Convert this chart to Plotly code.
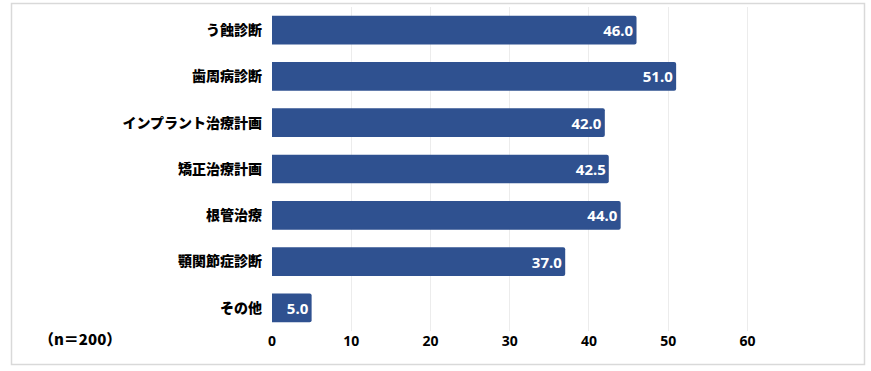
import plotly.graph_objects as go

categories = ["う蝕診断", "歯周病診断", "インプラント治療計画", "矯正治療計画", "根管治療", "顎関節症診断", "その他"]
values = [46.0, 51.0, 42.0, 42.5, 44.0, 37.0, 5.0]
tick_vals = [0, 10, 20, 30, 40, 50, 60]
note = "（n＝200）"

W, H = 871, 371
L, R, T, B = 272, 76, 7, 40
pw = W - L - R
ph = H - T - B

def px_x(p):
    return (p - L) / pw

def px_y(p):
    return 1 - (p - T) / ph

num_font = "Noto Sans, Roboto, sans-serif"
jp_font = "Noto Sans CJK JP"

fig = go.Figure(go.Bar(
    y=categories, x=values, orientation="h",
    marker=dict(color="#2F5190", line=dict(width=0)),
    width=0.62,
    text=[f"{v:.1f}" for v in values],
    textposition="inside", insidetextanchor="end",
    textfont=dict(color="white", size=15, family=num_font, weight="bold"),
    constraintext="none",
    cliponaxis=False,
    hoverinfo="skip",
))
fig.update_layout(
    width=W, height=H,
    margin=dict(l=L, r=R, t=T, b=B),
    paper_bgcolor="white", plot_bgcolor="white",
    barcornerradius=2,
    showlegend=False,
    font=dict(family=jp_font, color="black"),
    xaxis=dict(range=[0, 66], tickvals=tick_vals, showgrid=True, gridcolor="#ececec",
               zeroline=False, showline=False, ticks="",
               tickfont=dict(size=14, family=num_font, weight="bold", color="black")),
    yaxis=dict(autorange="reversed", showgrid=False, zeroline=False, showline=False,
               ticks="", ticklabelstandoff=9,
               tickfont=dict(size=14, family=jp_font, weight=900, color="black")),
    shapes=[dict(type="rect", xref="paper", yref="paper",
                 x0=px_x(11.5), x1=px_x(864.5), y0=px_y(364.5), y1=px_y(3.5),
                 line=dict(color="#d9d9d9", width=1.5), fillcolor="rgba(0,0,0,0)", layer="below")],
    annotations=[dict(text=note, xref="paper", yref="paper", x=px_x(37), y=px_y(338),
                      xanchor="left", yanchor="middle", showarrow=False,
                      font=dict(size=15, family=jp_font, weight=900, color="black"))],
)
fig.write_html("out.html", config={"displayModeBar": False, "staticPlot": True},
               post_script="document.body.style.margin='0';document.body.style.overflow='hidden';")
